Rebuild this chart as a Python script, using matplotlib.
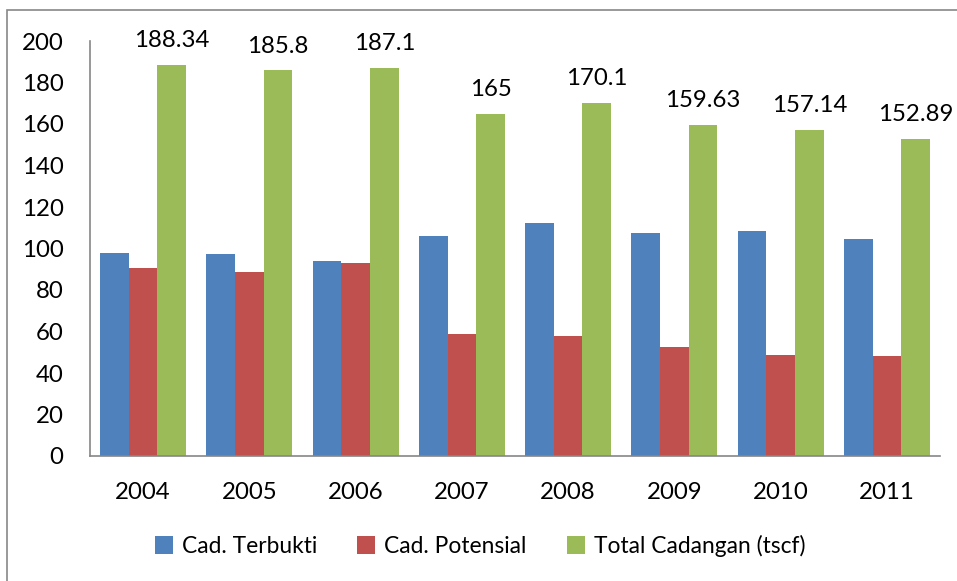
import numpy as np
import matplotlib.pyplot as plt
from matplotlib.patches import Rectangle

years = ["2004", "2005", "2006", "2007", "2008", "2009", "2010", "2011"]
terbukti = [97.81, 97.26, 94.0, 106.0, 112.5, 107.34, 108.4, 104.71]
potensial = [90.53, 88.54, 93.1, 59.0, 57.6, 52.29, 48.74, 48.18]
total = [188.34, 185.8, 187.1, 165, 170.1, 159.63, 157.14, 152.89]
total_labels = ["188.34", "185.8", "187.1", "165", "170.1", "159.63", "157.14", "152.89"]

plt.rcParams['font.family'] = ['Lato', 'DejaVu Sans']

W, H = 957, 581
fig = plt.figure(figsize=(W / 100, H / 100), dpi=100)
ax = fig.add_axes([90 / W, 1 - 456 / H, 850 / W, 415 / H])

# outer chart border (runs off the right and bottom edges)
fig.patches.append(Rectangle((7 / W, -0.05), 1.1, 1 - 10.5 / H + 0.05,
                             transform=fig.transFigure, fill=False,
                             edgecolor="#888888", linewidth=1.2))

x = np.arange(len(years))
bw = 0.27
ax.bar(x - bw, terbukti, bw, color="#4F81BD", label="Cad. Terbukti")
ax.bar(x, potensial, bw, color="#C0504D", label="Cad. Potensial")
bars = ax.bar(x + bw, total, bw, color="#9BBB59", label="Total Cadangan (tscf)")

for b, lab in zip(bars, total_labels):
    ax.annotate(lab, (b.get_x() + b.get_width() / 2, b.get_height()),
                xytext=(0, 10), textcoords="offset points",
                ha="center", va="bottom", fontsize=17.3)

ax.set_xlim(-0.5, len(years) - 0.5)
ax.set_ylim(0, 200)
ax.set_yticks(range(0, 201, 20))
ax.set_xticks(x)
ax.set_xticklabels(years)
ax.tick_params(axis="both", length=0, labelsize=17.3)
ax.tick_params(axis="y", pad=19)
ax.tick_params(axis="x", pad=19)
for s in ["top", "right"]:
    ax.spines[s].set_visible(False)
for s in ["left", "bottom"]:
    ax.spines[s].set_color("#868686")
    ax.spines[s].set_linewidth(1.2)

ax.legend(loc="center", bbox_to_anchor=(480 / W, 1 - 546 / H),
          bbox_transform=fig.transFigure, ncol=3, frameon=False,
          fontsize=16.4, handlelength=0.8, handleheight=0.8,
          handletextpad=0.4, columnspacing=1.75)

fig.savefig("out.png", dpi=100)
